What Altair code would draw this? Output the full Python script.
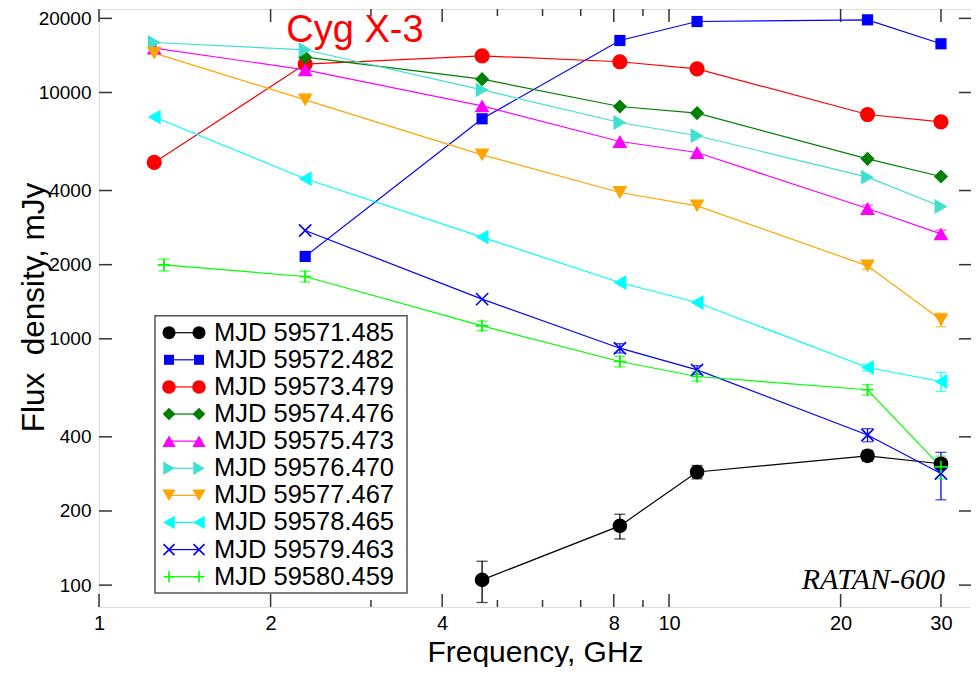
import altair as alt
import pandas as pd

# ---------------- data ----------------
NAMES = ["MJD 59571.485", "MJD 59572.482", "MJD 59573.479", "MJD 59574.476",
         "MJD 59575.473", "MJD 59576.470", "MJD 59577.467", "MJD 59578.465",
         "MJD 59579.463", "MJD 59580.459"]
COLORS = ["#000000", "#0000ff", "#ff0000", "#008000", "#ff00ff",
          "#40e0d0", "#ffa500", "#00ffff", "#0000ff", "#00ff00"]
X_PATH = "M-1,-1L1,1M-1,1L1,-1"
PLUS_PATH = "M-1,0L1,0M0,-1L0,1"
SHAPES = ["circle", "square", "circle", "diamond", "triangle-up",
          "triangle-right", "triangle-down", "triangle-left", X_PATH, PLUS_PATH]
FILLED = [True, True, True, True, True, True, True, True, False, False]
SIZES = [215, 125, 230, 200, 220, 220, 220, 220, 150, 150]

FREQS = [
    [4.7, 8.2, 11.2, 22.3, 30],
    [2.3, 4.7, 8.2, 11.2, 22.3, 30],
    [1.25, 2.3, 4.7, 8.2, 11.2, 22.3, 30],
    [2.3, 4.7, 8.2, 11.2, 22.3, 30],
    [1.25, 2.3, 4.7, 8.2, 11.2, 22.3, 30],
    [1.25, 2.3, 4.7, 8.2, 11.2, 22.3, 30],
    [1.25, 2.3, 4.7, 8.2, 11.2, 22.3, 30],
    [1.25, 2.3, 4.7, 8.2, 11.2, 22.3, 30],
    [2.3, 4.7, 8.2, 11.2, 22.3, 30],
    [1.3, 2.3, 4.7, 8.2, 11.2, 22.3, 30],
]
FLUX = [
    [105, 174, 288, 335, 311],
    [2160, 7820, 16260, 19420, 19730, 15770],
    [5200, 13040, 14090, 13330, 12480, 8140, 7600],
    [13920, 11330, 8775, 8250, 5380, 4560],
    [15140, 12365, 8830, 6325, 5707, 3381, 2668],
    [15960, 14910, 10250, 7553, 6675, 4533, 3444],
    [14450, 9340, 5585, 3926, 3467, 1978, 1194],
    [7950, 4465, 2588, 1693, 1404, 765, 671],
    [2753, 1449, 916, 748, 407, 284],
    [1996, 1791, 1129, 809, 703, 621, 302],
]
ERR = [
    [20, 20, 18, 17, 15],
    [0, 0, 0, 0, 0, 0],
    [0, 0, 0, 0, 0, 0, 0],
    [0, 0, 0, 0, 0, 0],
    [0, 0, 0, 0, 0, 110, 90],
    [0, 0, 0, 0, 0, 0, 0],
    [0, 0, 0, 0, 0, 60, 75],
    [0, 0, 0, 0, 0, 25, 60],
    [0, 0, 40, 30, 25, 62],
    [110, 90, 50, 40, 30, 30, 32],
]

X_MAJOR = [1, 2, 4, 8, 10, 20, 30]
X_MINOR = [3, 5, 6, 7, 9]
Y_MAJOR = [100, 200, 400, 1000, 2000, 4000, 10000, 20000]

# ---------------- tables ----------------
rows = []
for i, name in enumerate(NAMES):
    for f, v, e in zip(FREQS[i], FLUX[i], ERR[i]):
        rows.append(dict(series=name, idx=i, freq=f, flux=v, err=e,
                         lo=v - e, hi=v + e, color=COLORS[i], shape=SHAPES[i],
                         size=SIZES[i], filled=FILLED[i]))
df = pd.DataFrame(rows)
df_err = df[df["err"] > 0]
df_fill = df[df["filled"]]
df_open = df[~df["filled"]]

leg = pd.DataFrame(dict(series=NAMES, row=list(range(len(NAMES))), color=COLORS,
                        shape=SHAPES, size=[s * 0.8 for s in SIZES], filled=FILLED))
leg_fill = leg[leg["filled"]]
leg_open = leg[~leg["filled"]]

W, H = 872, 598
FONT = "Liberation Sans"

xscale = alt.Scale(type="log", domain=[1, 33.87], nice=False)
yscale = alt.Scale(type="log", domain=[81.5, 21830], nice=False)
xaxis = alt.Axis(values=X_MAJOR, format="~g", ticks=False, domain=False, grid=False,
                 labelFontSize=20, labelPadding=6, labelFlush=False, labelOverlap=False,
                 title="Frequency, GHz", titleFontSize=30, titleFontWeight="normal",
                 titleY=54, titleBaseline="alphabetic")
yaxis = alt.Axis(values=Y_MAJOR, format="d", ticks=False, domain=False, grid=False,
                 labelFontSize=19, labelPadding=8, labelFlush=False, labelOverlap=False,
                 title="Flux\u00a0 density, mJy", titleFontSize=31.5,
                 titleFontWeight="normal", titleAngle=270,
                 titleX=-55.7, titleY=298, titleAlign="center",
                 titleBaseline="alphabetic")


def X(field):
    return alt.X(field, scale=xscale, axis=xaxis)


def Y(field):
    return alt.Y(field, scale=yscale, axis=yaxis)


COL = alt.Color("color:N", scale=None)

lines = alt.Chart(df).mark_line(strokeWidth=1.2).encode(
    x=X("freq:Q"), y=Y("flux:Q"), color=COL, detail="series:N", order="freq:Q")

err_rule = alt.Chart(df_err).mark_rule(strokeWidth=1.3).encode(
    x=X("freq:Q"), y=Y("lo:Q"), y2="hi:Q", color=COL)
cap_lo = alt.Chart(df_err).mark_tick(orient="horizontal", size=11, thickness=1.3).encode(
    x=X("freq:Q"), y=Y("lo:Q"), color=COL)
cap_hi = alt.Chart(df_err).mark_tick(orient="horizontal", size=11, thickness=1.3).encode(
    x=X("freq:Q"), y=Y("hi:Q"), color=COL)

pts_fill = alt.Chart(df_fill).mark_point(filled=True, opacity=1).encode(
    x=X("freq:Q"), y=Y("flux:Q"), color=COL,
    shape=alt.Shape("shape:N", scale=None), size=alt.Size("size:Q", scale=None))
pts_open = alt.Chart(df_open).mark_point(filled=False, opacity=1, strokeWidth=1.6).encode(
    x=X("freq:Q"), y=Y("flux:Q"), color=COL,
    shape=alt.Shape("shape:N", scale=None), size=alt.Size("size:Q", scale=None))

TICK_COLOR = "#333333"
xmaj = pd.DataFrame(dict(v=X_MAJOR))
xmin = pd.DataFrame(dict(v=X_MINOR))
ymaj = pd.DataFrame(dict(v=Y_MAJOR))
tick_layers = [
    alt.Chart(xmaj).mark_rule(color=TICK_COLOR, strokeWidth=1.5).encode(
        x=X("v:Q"), y=alt.value(H), y2=alt.value(H - 13)),
    alt.Chart(xmaj).mark_rule(color=TICK_COLOR, strokeWidth=1.5).encode(
        x=X("v:Q"), y=alt.value(0), y2=alt.value(13)),
    alt.Chart(xmin).mark_rule(color=TICK_COLOR, strokeWidth=1.5).encode(
        x=X("v:Q"), y=alt.value(H), y2=alt.value(H - 7)),
    alt.Chart(xmin).mark_rule(color=TICK_COLOR, strokeWidth=1.5).encode(
        x=X("v:Q"), y=alt.value(0), y2=alt.value(7)),
    alt.Chart(ymaj).mark_rule(color=TICK_COLOR, strokeWidth=1.5).encode(
        y=Y("v:Q"), x=alt.value(0), x2=alt.value(13)),
    alt.Chart(ymaj).mark_rule(color=TICK_COLOR, strokeWidth=1.5).encode(
        y=Y("v:Q"), x=alt.value(W - 12), x2=alt.value(W)),
]

main = alt.layer(*tick_layers, lines, err_rule, cap_lo, cap_hi, pts_fill, pts_open)

# ---------------- legend (built from the series lists) ----------------
one = pd.DataFrame(dict(t=["Cyg X-3"], r=["RATAN-600"]))
rowscale = alt.Scale(domain=[0, 9], range=[323.7, 567.7])
RY = alt.Y("row:Q", scale=rowscale, axis=None)

box = alt.Chart(one).mark_rect(fill="white", stroke="#555555", strokeWidth=1.5).encode(
    x=alt.value(56), x2=alt.value(308), y=alt.value(306.7), y2=alt.value(584))
leg_line = alt.Chart(leg).mark_rule(strokeWidth=1.2).encode(
    y=RY, x=alt.value(70), x2=alt.value(100), color=COL)
leg_pts = []
for xv in (70, 100):
    leg_pts.append(alt.Chart(leg_fill).mark_point(filled=True, opacity=1).encode(
        y=RY, x=alt.value(xv), color=COL,
        shape=alt.Shape("shape:N", scale=None), size=alt.Size("size:Q", scale=None)))
    leg_pts.append(alt.Chart(leg_open).mark_point(filled=False, opacity=1, strokeWidth=1.6).encode(
        y=RY, x=alt.value(xv), color=COL,
        shape=alt.Shape("shape:N", scale=None), size=alt.Size("size:Q", scale=None)))
leg_text = alt.Chart(leg).mark_text(align="left", baseline="middle", fontSize=25.5,
                                    font=FONT, color="black").encode(
    y=RY, x=alt.value(115), text="series:N")

title_txt = alt.Chart(one).mark_text(align="center", baseline="alphabetic", fontSize=38,
                                     font=FONT, color="#ff0000").encode(
    x=alt.value(256), y=alt.value(32.7), text="t:N")
ratan_txt = alt.Chart(one).mark_text(align="right", baseline="alphabetic", fontSize=30,
                                     font="Liberation Serif", fontStyle="italic",
                                     color="black").encode(
    x=alt.value(846), y=alt.value(580.3), text="r:N")

legend = alt.layer(box, leg_line, *leg_pts, leg_text, title_txt, ratan_txt)

chart = alt.layer(main, legend).resolve_scale(y="independent").properties(
    width=W, height=H,
    padding={"left": 91, "top": 1, "right": 0, "bottom": 60},
    autosize=alt.AutoSizeParams(type="none"),
).configure_view(stroke="#333333", strokeWidth=2).configure_axis(
    labelFont=FONT, titleFont=FONT, labelColor="black", titleColor="black",
    titleFontWeight="normal"
).configure(background="white")

chart.save("out.html", embed_options={"renderer": "svg", "actions": False})
